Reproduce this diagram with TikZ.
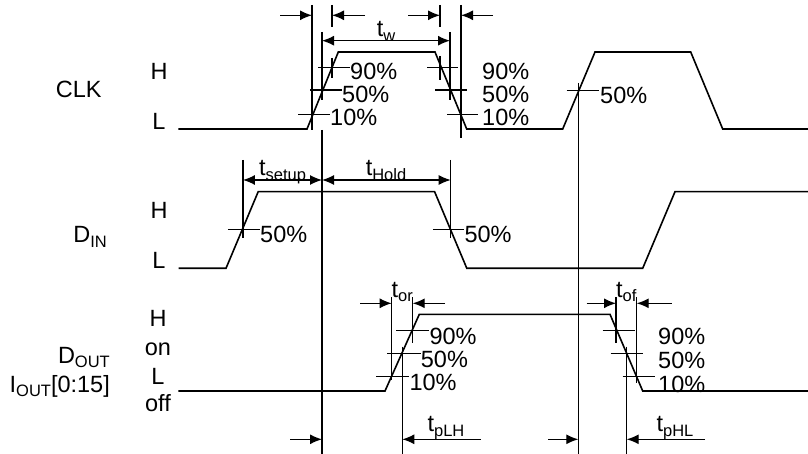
\documentclass[tikz,border=0pt]{standalone}
\usepackage{fontspec}
\setmainfont{Liberation Sans}
\usetikzlibrary{arrows.meta}
\newcommand{\lsub}[1]{\raisebox{-0.4ex}{\fontsize{16.5}{16.5}\selectfont #1}}
\begin{document}
\begin{tikzpicture}[x=1pt,y=-1pt,
  sig/.style={line width=1.6pt, line join=miter},
  vline/.style={line width=1.25pt},
  dimr/.style={line width=1.25pt, -{Latex[length=12pt,width=10pt]}},
  dimb/.style={line width=1.25pt, {Latex[length=12pt,width=10pt]}-{Latex[length=12pt,width=10pt]}},
  lab/.style={inner sep=0pt, font=\fontsize{23.5}{27}\selectfont},
  pct/.style={inner sep=0pt, font=\fontsize{23.5}{27}\selectfont, anchor=base west},
]
\useasboundingbox (0,0) rectangle (808,454);

% ---------------- left labels ----------------
\node[lab, anchor=base east] (clk) at (101.7,97.3) {CLK};
\node[lab, anchor=base east] (din) at (107,243) {D\lsub{IN}};
\node[lab, anchor=base east] (dout) at (110,363) {D\lsub{OUT}};
\node[lab, anchor=base east] (iout) at (110,392) {I\lsub{OUT}[0:15]};
\node[lab, anchor=base] (clkh) at (159,79.3) {H};
\node[lab, anchor=base] (clkl) at (159,129.3) {L};
\node[lab, anchor=base] (dinh) at (159,218.8) {H};
\node[lab, anchor=base] (dinl) at (159,268.3) {L};
\node[lab, anchor=base] (douth) at (158,326) {H};
\node[lab, anchor=base] (douton) at (158,355) {on};
\node[lab, anchor=base] (doutl) at (158,384) {L};
\node[lab, anchor=base] (doutoff) at (158,411.7) {off};

% ---------------- signals ----------------
\draw[sig] (178.3,129) -- (307,129) -- (338.3,52) -- (435,52) -- (466.7,129)
  -- (562.7,129) -- (595,52) -- (690.7,52) -- (722.7,129) -- (808,129);
\draw[sig] (178.6,268.3) -- (226,268.3) -- (258.2,191.7) -- (434.6,191.7) -- (466.8,268.3)
  -- (642.7,268.3) -- (675,191.7) -- (808,191.7);
\draw[sig] (178.3,391) -- (385,391) -- (419.3,314.3) -- (610,314.3) -- (642.7,391) -- (808,391);

% ---------------- CLK markers ----------------
\draw[vline] (312,5) -- (312,130);
\draw[vline] (332,5) -- (332,27);
\draw[vline] (332,58) -- (332,78);
\draw[vline] (322,32) -- (322,100);
\draw[vline] (322,130) -- (322,454);
\draw[vline] (440,5) -- (440,27);
\draw[vline] (440,56) -- (440,80);
\draw[vline] (450,32) -- (450,100);
\draw[vline] (461,5) -- (461,138);
\draw[vline] (318,67.7) -- (350,67.7);
\draw[vline] (310,90) -- (342,90);
\draw[vline] (298,114.3) -- (330,114.3);
\draw[vline] (427,67.7) -- (458,67.7);
\draw[vline] (435,90) -- (467,90);
\draw[vline] (447,114.3) -- (478,114.3);
\draw[vline] (566.7,90.7) -- (599,90.7);
\draw[vline] (578.3,83) -- (578.3,454);

\draw[dimr] (280,15.3) -- (312,15.3);
\draw[dimr] (365,15.3) -- (332,15.3);
\draw[dimr] (408,15.3) -- (440,15.3);
\draw[dimr] (493,15.3) -- (461,15.3);
\draw[dimb] (322,40.7) -- (450,40.7);
\node[lab, anchor=base] (tw) at (386,37) {t\lsub{w}};

\node[pct] (c90) at (350,80) {90\%};
\node[pct] (c50) at (342,103) {50\%};
\node[pct] (c10) at (330,126) {10\%};
\node[pct] (c90r) at (482,80) {90\%};
\node[pct] (c50r) at (482,103) {50\%};
\node[pct] (c10r) at (482,126) {10\%};
\node[pct] (c50b) at (600,103.5) {50\%};

% ---------------- DIN markers ----------------
\draw[vline] (242.9,160) -- (242.9,238);
\draw[vline] (450.7,160) -- (450.7,238);
\draw[vline] (227.9,229.5) -- (260,229.5);
\draw[vline] (432.9,229.5) -- (464.3,229.5);
\draw[dimb] (242.9,180) -- (322,180);
\draw[dimb] (322,180) -- (450.7,180);
\node[lab, anchor=base] (tsu) at (282.5,176) {t\lsub{setup}};
\node[lab, anchor=base] (thd) at (386,176) {t\lsub{Hold}};
\node[pct] (d50) at (260,242.5) {50\%};
\node[pct] (d50r) at (464.3,242.5) {50\%};

% ---------------- DOUT markers ----------------
\draw[vline] (391.7,297) -- (391.7,380);
\draw[vline] (412.7,297) -- (412.7,343);
\draw[vline] (402.3,346.7) -- (402.3,454);
\draw[vline] (616,297) -- (616,343);
\draw[vline] (636.7,297) -- (636.7,383);
\draw[vline] (626.7,346.7) -- (626.7,454);
\draw[vline] (396,330.7) -- (429.3,330.7);
\draw[vline] (387.3,353.3) -- (420.7,353.3);
\draw[vline] (376,376.7) -- (409.3,376.7);
\draw[vline] (602.7,330.7) -- (635,330.7);
\draw[vline] (610.7,353.3) -- (643.3,353.3);
\draw[vline] (622.7,376.7) -- (655,376.7);

\draw[dimr] (360,303.3) -- (391.7,303.3);
\draw[dimr] (445,303.3) -- (412.7,303.3);
\draw[dimr] (586.7,303.3) -- (616,303.3);
\draw[dimr] (671.7,303.3) -- (636.7,303.3);
\node[lab, anchor=base] (tor) at (402.2,297) {t\lsub{or}};
\node[lab, anchor=base] (tof) at (626.3,297) {t\lsub{of}};

\node[pct] (o90) at (429.3,344) {90\%};
\node[pct] (o50) at (420.7,367) {50\%};
\node[pct] (o10) at (409.3,390) {10\%};
\node[pct] (o90r) at (658,344) {90\%};
\node[pct] (o50r) at (658,368) {50\%};
\node[pct] (o10r) at (658,392) {10\%};

% ---------------- propagation ----------------
\draw[dimr] (290,439.3) -- (322,439.3);
\draw[dimr] (480.7,439.3) -- (402.3,439.3);
\draw[dimr] (548,439.3) -- (578.3,439.3);
\draw[dimr] (705,439.3) -- (626.7,439.3);
\node[lab, anchor=base] (tplh) at (446,431.7) {t\lsub{pLH}};
\node[lab, anchor=base] (tphl) at (675,431.7) {t\lsub{pHL}};
\end{tikzpicture}
\end{document}
